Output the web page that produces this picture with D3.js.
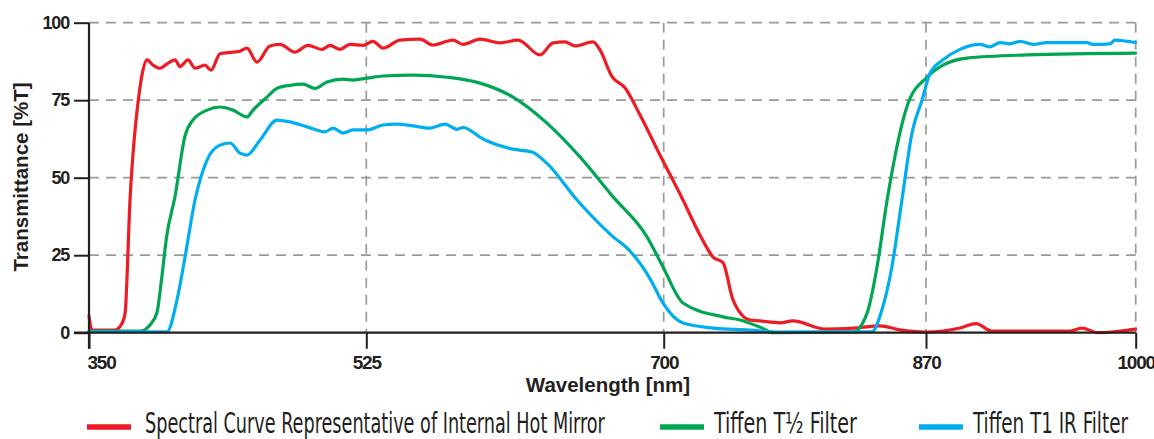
<!DOCTYPE html>
<html lang="en">
<head>
<meta charset="UTF-8">
<title>Transmittance</title>
<script src="https://d3js.org/d3.v7.min.js"></script>
<style>
  html, body { margin: 0; padding: 0; background: #fff; }
  svg { display: block; }
  .tick-label { font-family: "Liberation Sans", Arial, sans-serif; font-weight: 700; font-size: 19px; fill: #231f20; letter-spacing: -1.2px; }
  .axis-title { font-family: "Liberation Sans", Arial, sans-serif; font-weight: 700; font-size: 20.5px; fill: #231f20; }
  .legend-text { font-family: "Liberation Sans Narrow", "DejaVu Sans Condensed", sans-serif; font-size: 28px; fill: #231f20; }
</style>
</head>
<body>
<div id="chart"></div>
<script>
// wavelength (nm) -> transmittance (%T)
var hotMirror = [
  [350,5.4],[351.9,0.8],[366,0.8],[369.6,2],[372.7,6],[375.9,43],[381.6,77],[383.4,83],[386.6,88],
  [390.4,86.3],[394.8,85.3],[399.2,86.7],[404.3,88],[407.4,85.8],[412.5,88],[416.9,85.3],[423.2,86.3],
  [427,84.7],[432.7,90],[440.9,90.5],[445.3,90.8],[449.7,91.8],[456,87.3],[464.2,92.5],[470.5,93],
  [480,90.5],[488.2,92.7],[497,91.4],[502.1,92.7],[508.4,91.4],[514.7,93],[522.9,92.7],[528.9,94],
  [534.8,91.8],[544.8,94.4],[556.6,94.7],[564.2,92.8],[576,94.4],[581.9,93],[591.9,94.7],[603.7,93.5],
  [614.3,94.4],[627.2,89.6],[634.9,93.5],[641.9,93.8],[647.8,92.5],[658.4,93.8],[662.5,91.2],
  [669.6,82.6],[677.2,79],[686,70.3],[697.8,57.3],[712.5,42.8],[723.5,31.5],[732,24.4],[738.4,22.6],
  [744.9,10.6],[755.9,4.1],[762.4,3.8],[775.4,3.2],[783.8,3.8],[804.5,1.2],[822.7,1.5],[840.2,2.2],
  [853.2,0.9],[870,0.2],[891.1,1.5],[901,2.9],[910.9,0.5],[959.3,0.5],[966.7,1.5],[976.6,0],[1000,1.2]
];
var tiffenHalf = [
  [350,0.5],[382.2,0.5],[388.5,2.5],[392.9,6.5],[395.5,16],[399,31],[404.3,44],[410.6,63.5],
  [415.6,68.6],[424.5,71.8],[432.7,72.8],[440.9,71.8],[449.7,69.6],[453.5,71.8],[462.3,76],[468.6,78.8],
  [476.8,79.8],[485,80.2],[492.6,78.8],[500.2,80.9],[510.3,81.8],[516.6,81.5],[525.4,82.1],[534.8,82.8],
  [552.5,83.1],[572.5,82.4],[591.9,80.5],[611.3,76],[631.3,67.6],[650.7,56.7],[670.1,43.9],[690.1,31],
  [699.5,21.3],[712.5,9.6],[738.4,5.1],[749.4,4.1],[762.4,1.8],[770.8,0],[822.7,0.2],[831.8,6.3],
  [838.3,21.3],[844.8,42.8],[858.4,74],[870.6,82.4],[880.5,86.3],[895.4,88.6],[932.6,89.6],[1000,90.2]
];
var tiffenT1 = [
  [350,0.3],[399.2,0.3],[405.5,10.5],[410.6,24.4],[416.9,42.8],[424.5,55.7],[432.7,60.5],[439,61.2],
  [445.3,57.9],[449.7,57.3],[457.9,62.1],[468.6,68.6],[476.8,68],[487.6,66.4],[498.9,64.8],[504,66],
  [510.3,64.4],[516.6,65.4],[525.4,65.4],[534.8,67],[543.1,67.3],[552.5,66.7],[562.5,66],[571.3,67.3],
  [578.4,65.6],[581.9,66.2],[591.9,63.1],[596,61.9],[611.3,59.2],[622.5,58.3],[631.3,54.6],[649,42.8],
  [670.1,31],[679.2,26.9],[692.1,17.3],[699.5,9.6],[712.5,3.1],[732,1.5],[754,0.9],[775.4,0.2],
  [834.9,0.3],[841.4,7.3],[847.9,21.3],[854.4,42.8],[860.9,64.4],[867.4,75],[872.5,83.7],[880.5,88],
  [891.1,91.4],[903.5,93],[909.7,92.2],[915.9,93.6],[922.1,93.2],[928.3,94],[936.3,93],[945,93.6],
  [969.8,93.6],[973.5,93],[984.1,93.2],[987.2,94.4],[1000,93.6]
];

var xTicks = [350, 525, 700, 870, 1000];
var yTicks = [0, 25, 50, 75, 100];
var seriesNames = ["Spectral Curve Representative of Internal Hot Mirror", "Tiffen T\u00BD Filter", "Tiffen T1 IR Filter"];
var seriesColors = ["#ed1c24", "#00a651", "#00aeef"];

var width = 1154, height = 439;
var svg = d3.select("#chart").append("svg")
  .attr("width", width).attr("height", height);

// the wavelength axis in the original is not evenly spaced, so map each tick separately
var x = d3.scaleLinear().domain(xTicks).range([89, 366.3, 663.7, 926, 1135.7]);
var y = d3.scaleLinear().domain([0, 100]).range([332.7, 22.7]);

// grid
svg.append("g").selectAll("line")
  .data(yTicks.filter(function(d) { return d > 0; }))
  .enter().append("line")
  .attr("x1", x(350)).attr("x2", x(1000))
  .attr("y1", function(d) { return y(d); }).attr("y2", function(d) { return y(d); })
  .attr("stroke", "#9a9a9a").attr("stroke-width", 1.7).attr("stroke-dasharray", "10,7");
svg.append("g").selectAll("line")
  .data(xTicks.filter(function(d) { return d > 350; }))
  .enter().append("line")
  .attr("x1", function(d) { return x(d); }).attr("x2", function(d) { return x(d); })
  .attr("y1", y(100)).attr("y2", y(0))
  .attr("stroke", "#9a9a9a").attr("stroke-width", 1.7).attr("stroke-dasharray", "10,7");

// curves
var line = d3.line()
  .x(function(d) { return x(d[0]); })
  .y(function(d) { return y(d[1]); })
  .curve(d3.curveMonotoneX);

[hotMirror, tiffenHalf, tiffenT1].forEach(function(s, i) {
  svg.append("path")
    .attr("d", line(s))
    .attr("fill", "none")
    .attr("stroke", seriesColors[i])
    .attr("stroke-width", 3.2)
    .attr("stroke-linejoin", "round")
    .attr("stroke-linecap", "round");
});

// axes
var xAxis = d3.axisBottom(x).tickValues(xTicks).tickFormat(d3.format("d")).tickSize(16).tickPadding(5);
var gx = svg.append("g").attr("transform", "translate(0," + y(0) + ")").call(xAxis);
var yAxis = d3.axisLeft(y).tickValues(yTicks).tickFormat(d3.format("d")).tickSize(15).tickPadding(6);
var gy = svg.append("g").attr("transform", "translate(" + x(350) + ",0)").call(yAxis);

[gx, gy].forEach(function(g) {
  g.attr("font-size", null).attr("font-family", null);
  g.select(".domain").remove();
  g.selectAll(".tick line").attr("stroke", "#231f20").attr("stroke-width", 2);
  g.selectAll(".tick text").attr("class", "tick-label").attr("fill", null);
});
gx.selectAll(".tick text").attr("dy", "0.8em");
gx.selectAll(".tick text").filter(function(d) { return d === 350; })
  .attr("text-anchor", "start").attr("x", -2);
gy.selectAll(".tick text").attr("x", -20).style("font-size", "18px");

svg.append("line")
  .attr("x1", x(350) - 15).attr("x2", x(1000))
  .attr("y1", y(0)).attr("y2", y(0))
  .attr("stroke", "#231f20").attr("stroke-width", 2.2);
svg.append("line")
  .attr("x1", x(350)).attr("x2", x(350))
  .attr("y1", y(100)).attr("y2", y(0) + 16)
  .attr("stroke", "#231f20").attr("stroke-width", 2.2);

// titles
svg.append("text").attr("class", "axis-title")
  .attr("x", 608).attr("y", 392).attr("text-anchor", "middle")
  .text("Wavelength [nm]");
svg.append("text").attr("class", "axis-title")
  .attr("transform", "translate(28,177) rotate(-90)")
  .attr("text-anchor", "middle")
  .text("Transmittance [%T]");

// legend: the original face is very narrow, so squeeze each label to its width
var legendX = [87, 660, 919];
var legendTextX = [145, 714, 973];
var legendTextW = [460, 143, 155];
var legend = svg.append("g");
seriesNames.forEach(function(name, i) {
  legend.append("line")
    .attr("x1", legendX[i]).attr("x2", legendX[i] + 44)
    .attr("y1", 427).attr("y2", 427)
    .attr("stroke", seriesColors[i]).attr("stroke-width", 5.5);
  var t = legend.append("text").attr("class", "legend-text")
    .attr("x", 0).attr("y", 0)
    .text(name);
  var w = t.node().getComputedTextLength();
  t.attr("transform", "translate(" + legendTextX[i] + ",433) scale(" + (legendTextW[i] / w) + ",1)");
});
</script>
</body>
</html>
